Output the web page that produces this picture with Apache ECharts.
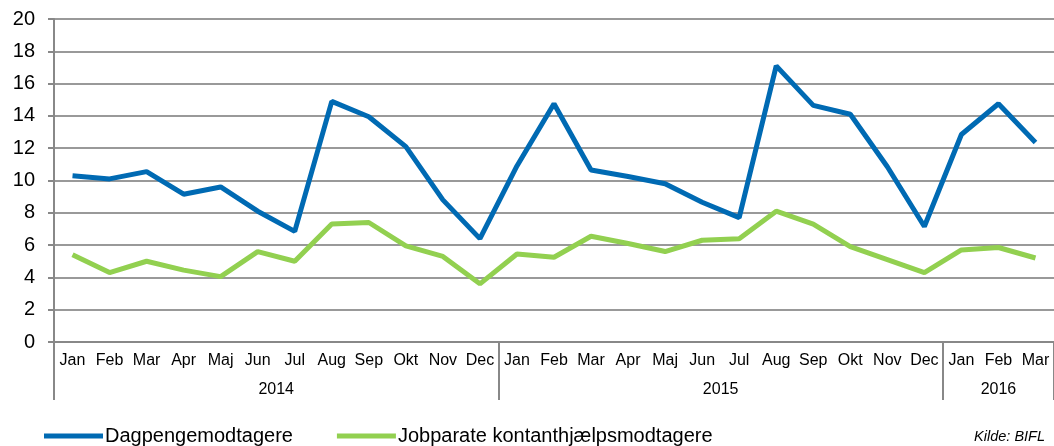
<!DOCTYPE html>
<html>
<head>
<meta charset="utf-8">
<script src="https://cdn.jsdelivr.net/npm/echarts@6/dist/echarts.min.js"></script>
<style>
  html, body { margin: 0; padding: 0; background: #fff; }
  #chart { width: 1054px; height: 446px; }
</style>
</head>
<body>
<div id="chart"></div>
<script>
// month categories, Jan 2014 - Mar 2016
const months = ['Jan', 'Feb', 'Mar', 'Apr', 'Maj', 'Jun', 'Jul', 'Aug', 'Sep', 'Okt', 'Nov', 'Dec',
  'Jan', 'Feb', 'Mar', 'Apr', 'Maj', 'Jun', 'Jul', 'Aug', 'Sep', 'Okt', 'Nov', 'Dec',
  'Jan', 'Feb', 'Mar']
const years = ['2014', '2015', '2016']
// year group boundaries (in month slots) and label centres
const yearBounds = [0, 12, 24, 27]
const yearCentres = [6, 18, 25.5]

const seriesNames = ['Dagpengemodtagere', 'Jobparate kontanthjælpsmodtagere']
const dagpenge = [10.3, 10.1, 10.55, 9.15, 9.6, 8.1, 6.85, 14.9, 13.95, 12.1, 8.8, 6.4,
  10.9, 14.75, 10.65, 10.25, 9.8, 8.65, 7.7, 17.1, 14.65, 14.1, 10.85, 7.15,
  12.85, 14.75, 12.35]
const jobparate = [5.4, 4.3, 5.0, 4.45, 4.05, 5.6, 5.0, 7.3, 7.4, 5.95, 5.3, 3.6,
  5.45, 5.25, 6.55, 6.1, 5.6, 6.3, 6.4, 8.1, 7.3, 5.9, 5.1, 4.3,
  5.7, 5.85, 5.2]
const itemColor = ['#006AB3', '#92D050']

const font = '"Liberation Sans", Arial, sans-serif'
const chart = echarts.init(document.getElementById('chart'))

chart.setOption({
  animation: false,
  textStyle: { fontFamily: font },
  grid: { left: 54, right: 0, top: 19, bottom: 104 },
  title: {
    text: 'Kilde: BIFL',
    right: 4,
    top: 424,
    textStyle: { fontSize: 14.5, fontStyle: 'italic', fontWeight: 'normal', color: '#000', fontFamily: font }
  },
  legend: {
    left: 39,
    top: 421,
    itemWidth: 59,
    itemHeight: 5,
    itemGap: 44,
    icon: 'rect',
    textStyle: { fontSize: 20, color: '#000', padding: [0, 0, 0, -3] },
    data: seriesNames
  },
  xAxis: [{
    type: 'category',
    data: months,
    boundaryGap: true,
    axisLine: { lineStyle: { color: '#888', width: 2 } },
    axisTick: { interval: 0, length: 29, lineStyle: { color: '#888', width: 2 } },
    axisLabel: { interval: 0, margin: 11, fontSize: 16, color: '#000' }
  }, {
    type: 'value',
    position: 'bottom',
    min: 0,
    max: 27,
    axisLine: { show: false },
    splitLine: { show: false },
    axisTick: { show: true, customValues: yearBounds, length: 58, lineStyle: { color: '#888', width: 2 } },
    axisLabel: {
      customValues: yearCentres,
      margin: 40,
      fontSize: 16,
      color: '#000',
      formatter: v => years[yearCentres.indexOf(v)] || ''
    }
  }],
  yAxis: {
    type: 'value',
    min: 0,
    max: 20,
    interval: 2,
    axisLine: { show: true, lineStyle: { color: '#888', width: 2 } },
    axisTick: { show: true, length: 6, lineStyle: { color: '#888', width: 2 } },
    axisLabel: { fontSize: 20, color: '#000', margin: 19 },
    splitLine: { lineStyle: { color: '#999', width: 2 } }
  },
  series: [{
    name: seriesNames[0],
    type: 'line',
    data: dagpenge,
    showSymbol: false,
    itemStyle: { color: itemColor[0] },
    lineStyle: { width: 5, color: itemColor[0] }
  }, {
    name: seriesNames[1],
    type: 'line',
    data: jobparate,
    showSymbol: false,
    itemStyle: { color: itemColor[1] },
    lineStyle: { width: 5, color: itemColor[1] }
  }]
})
</script>
</body>
</html>
